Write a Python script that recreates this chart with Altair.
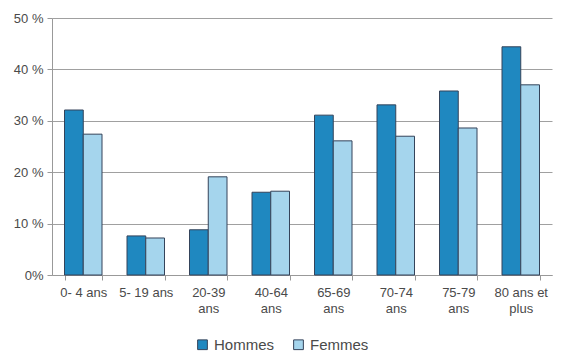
import altair as alt
import pandas as pd

categories = ["0- 4 ans", "5- 19 ans", "20-39|ans", "40-64|ans", "65-69|ans", "70-74|ans", "75-79|ans", "80 ans  et|plus"]
hommes = [32.1, 7.6, 8.8, 16.1, 31.1, 33.1, 35.8, 44.4]
femmes = [27.4, 7.2, 19.1, 16.3, 26.1, 27.0, 28.6, 37.0]
series = ["Hommes", "Femmes"]
colors = ["#1f88c0", "#a5d5ed"]

rows = []
for c, h, f in zip(categories, hommes, femmes):
    rows.append({"cat": c, "serie": "Hommes", "val": h})
    rows.append({"cat": c, "serie": "Femmes", "val": f})
df = pd.DataFrame(rows)

font = "Liberation Sans"
txt = "#4a4a4a"

chart = alt.Chart(df).mark_bar(stroke="#34435a", strokeWidth=1).encode(
    x=alt.X("cat:N", sort=categories, title=None,
            scale=alt.Scale(paddingInner=0.4, paddingOuter=0.2),
            axis=alt.Axis(labelAngle=0, labelExpr="split(datum.label, '|')",
                          tickBand="extent", domainColor="#999999", tickColor="#999999",
                          tickSize=5, labelPadding=6, labelFontSize=13, labelColor=txt,
                          labelFont=font, labelLineHeight=16)),
    xOffset=alt.XOffset("serie:N", sort=series),
    y=alt.Y("val:Q", title=None,
            scale=alt.Scale(domain=[0, 50]),
            axis=alt.Axis(values=[0, 10, 20, 30, 40, 50],
                          labelExpr="datum.value == 0 ? '0%' : datum.value + ' %'",
                          grid=True, gridColor="#a0a0a0", domainColor="#999999",
                          tickColor="#999999", tickSize=5, labelPadding=4,
                          labelFontSize=13, labelColor=txt, labelFont=font)),
    color=alt.Color("serie:N", sort=series,
                    scale=alt.Scale(domain=series, range=colors),
                    legend=alt.Legend(title=None, orient="none", direction="horizontal",
                                      legendX=143, legendY=319, symbolType="square",
                                      symbolSize=95, symbolStrokeColor="#34435a",
                                      symbolStrokeWidth=1, labelFontSize=15,
                                      labelColor=txt, labelFont=font, columnPadding=16,
                                      labelOffset=4)),
).properties(
    width=500, height=257,
    autosize=alt.AutoSizeParams(type="none"),
    padding={"left": 44, "top": 10, "right": 12, "bottom": 80},
).configure_view(stroke=None)

chart.save("out.html", embed_options={"renderer": "svg", "actions": False})
